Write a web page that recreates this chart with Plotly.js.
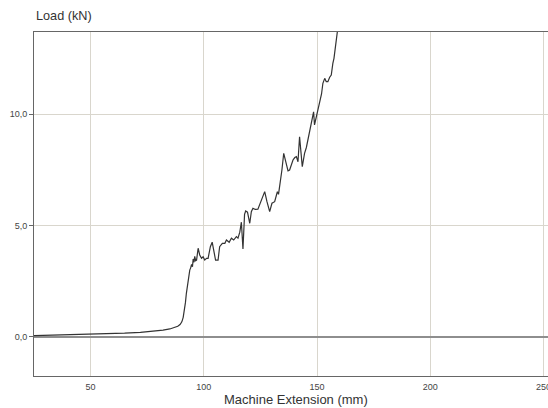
<!DOCTYPE html>
<html>
<head>
<meta charset="utf-8">
<script src="https://cdn.plot.ly/plotly-3.0.1.min.js"></script>
<style>
  html, body { margin: 0; padding: 0; overflow: hidden; background: #fff; }
  #chart { width: 640px; height: 408px; }
</style>
</head>
<body>
<div id="chart"></div>
<script>
// Machine extension (mm) and load (kN) readings of the tensile test
const extension = [
  25, 35, 45, 55, 65, 72, 78, 82, 85, 87, 88.5, 89.5, 90.3, 90.9, 91.4, 91.9,
  92.3, 92.7, 93.1, 93.5, 93.8, 94.2, 94.6, 95.0, 95.3, 95.7, 96.0, 96.4, 96.8,
  97.5, 98.2, 99.0, 99.7, 100.4, 101.2, 101.9, 102.9, 103.7, 104.4, 105.2,
  106.3, 107.0, 108.2, 109.3, 110.0, 110.7, 111.2, 112.2, 113.2, 114.4, 115.1,
  115.9, 116.6, 117.3, 118.0, 118.5, 119.3, 120.3, 121.0, 121.7, 122.8, 123.9,
  124.6, 125.4, 126.2, 126.9, 127.9, 129.1, 130.1, 131.3, 132.1, 132.5, 133.0,
  133.8, 134.5, 135.3, 136.5, 137.2, 137.9, 138.6, 139.4, 140.2, 140.9, 141.6,
  142.3, 143.5, 144.5, 145.3, 146.0, 146.7, 147.5, 148.0, 148.5, 148.9, 150.0,
  151.2, 152.0, 152.6, 153.4, 154.1, 154.8, 155.6, 156.3, 157.0, 157.5, 158.0,
  158.6, 159.2, 160.0
];
const load = [
  0.06, 0.08, 0.10, 0.13, 0.17, 0.21, 0.26, 0.31, 0.36, 0.41, 0.48, 0.56, 0.68,
  0.88, 1.15, 1.55, 1.96, 2.30, 2.60, 2.85, 3.00, 3.10, 3.25, 3.15, 3.50, 3.35,
  3.62, 3.42, 3.45, 3.98, 3.68, 3.53, 3.60, 3.45, 3.53, 3.53, 4.05, 4.25, 3.83,
  3.45, 3.45, 4.05, 4.20, 4.20, 4.35, 4.30, 4.25, 4.43, 4.35, 4.50, 4.43, 4.70,
  5.15, 3.95, 5.50, 5.65, 5.60, 5.10, 5.62, 5.77, 5.72, 5.73, 5.90, 6.14, 6.30,
  6.52, 6.07, 5.62, 6.00, 6.07, 6.37, 6.52, 6.40, 6.89, 7.49, 8.24, 7.71, 7.45,
  7.49, 7.70, 7.94, 8.05, 8.09, 7.86, 8.98, 7.64, 8.24, 8.50, 8.83, 9.13, 9.58,
  9.80, 10.10, 9.51, 10.03, 10.48, 10.90, 11.38, 11.60, 11.45, 11.45, 11.65,
  11.75, 12.27, 12.50, 12.90, 13.40, 13.90, 14.50
];
const xTicks = [50, 100, 150, 200, 250];
const yTicks = [0, 5, 10];

const font = 'Liberation Sans, Arial, Helvetica, sans-serif';
const gridColor = '#d9d6cd';
const axisColor = '#666';

const trace = {
  x: extension,
  y: load,
  type: 'scatter',
  mode: 'lines',
  line: { color: '#333', width: 1.2 },
  hoverinfo: 'skip'
};

const layout = {
  width: 640,
  height: 408,
  margin: { l: 34, r: 40, t: 32, b: 32 },
  paper_bgcolor: '#fff',
  plot_bgcolor: '#fff',
  separators: ',.',
  showlegend: false,
  font: { family: font, color: '#444', size: 9 },
  xaxis: {
    range: [25, 275],
    tickvals: xTicks,
    ticks: '',
    ticklabelstandoff: 2,
    showgrid: true,
    gridcolor: gridColor,
    gridwidth: 1,
    zeroline: false,
    showline: true,
    linecolor: axisColor,
    linewidth: 1,
    mirror: true,
    tickfont: { family: font, size: 9, color: '#444' }
  },
  yaxis: {
    range: [-1.75, 13.68],
    tickvals: yTicks,
    tickformat: '.1f',
    ticks: 'outside',
    ticklen: 4,
    tickwidth: 1,
    tickcolor: axisColor,
    showgrid: true,
    gridcolor: gridColor,
    gridwidth: 1,
    zeroline: true,
    zerolinecolor: '#8e8e8e',
    zerolinewidth: 1.3,
    showline: true,
    linecolor: axisColor,
    linewidth: 1,
    tickfont: { family: font, size: 9, color: '#444' }
  },
  annotations: [
    {
      text: 'Load (kN)',
      xref: 'paper', yref: 'paper',
      x: 0, y: 1,
      xanchor: 'left', yanchor: 'middle',
      xshift: 0, yshift: 16,
      showarrow: false,
      font: { family: font, size: 12.7, color: '#333' }
    },
    {
      text: 'Machine Extension (mm)',
      xref: 'x', yref: 'paper',
      x: 140.6, y: 0,
      xanchor: 'center', yanchor: 'middle',
      yshift: -23,
      showarrow: false,
      font: { family: font, size: 13, color: '#333' }
    }
  ]
};

Plotly.newPlot('chart', [trace], layout, { displayModeBar: false, staticPlot: true });
</script>
</body>
</html>
